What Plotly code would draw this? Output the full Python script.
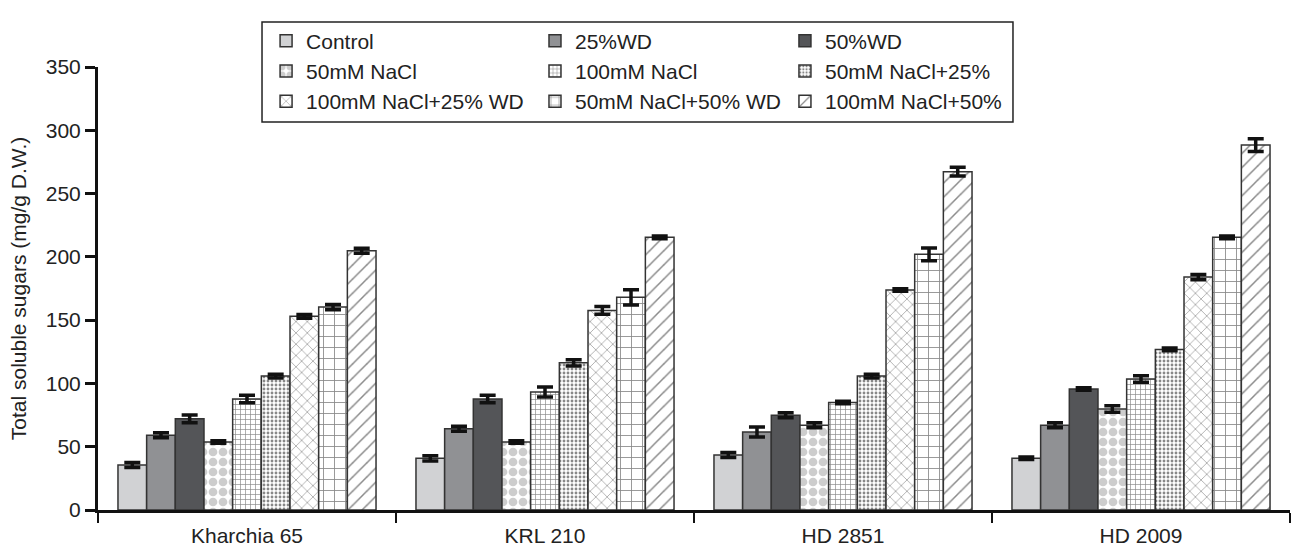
import plotly.graph_objects as go

cultivars = ["Kharchia 65", "KRL 210", "HD 2851", "HD 2009"]
treatments = ["Control", "25%WD", "50%WD", "50mM NaCl", "100mM NaCl",
              "50mM NaCl+25%", "100mM NaCl+25% WD", "50mM NaCl+50% WD", "100mM NaCl+50%"]

control = [35.5, 40.8, 43.4, 40.8]
wd25 = [59.0, 64.2, 61.6, 66.9]
wd50 = [72.0, 87.7, 74.8, 95.6]
nacl50 = [53.7, 53.7, 66.9, 79.8]
nacl100 = [87.7, 93.2, 85.0, 103.5]
nacl50_wd25 = [105.8, 116.3, 105.8, 126.9]
nacl100_wd25 = [153.0, 157.7, 173.8, 184.0]
nacl50_wd50 = [160.3, 168.0, 202.0, 215.4]
nacl100_wd50 = [204.8, 215.4, 267.3, 288.3]

err_control = [2, 2, 2, 1]
err_wd25 = [2, 2, 4, 2]
err_wd50 = [3, 3, 2, 1]
err_nacl50 = [1, 1, 2, 2.5]
err_nacl100 = [3, 4, 1, 2.5]
err_nacl50_wd25 = [1.5, 2.5, 1.5, 1]
err_nacl100_wd25 = [1.5, 3, 1, 2]
err_nacl50_wd50 = [2, 6, 5, 1]
err_nacl100_wd50 = [2, 1, 3.5, 5]

series = [control, wd25, wd50, nacl50, nacl100, nacl50_wd25, nacl100_wd25, nacl50_wd50, nacl100_wd50]
errors = [err_control, err_wd25, err_wd50, err_nacl50, err_nacl100, err_nacl50_wd25,
          err_nacl100_wd25, err_nacl50_wd50, err_nacl100_wd50]

styles = [
    dict(color="#d1d2d4"),
    dict(color="#909194"),
    dict(color="#545558"),
    dict(color="white", pattern=dict(shape=".", fgcolor="#9b9b9b", bgcolor="white", size=10, solidity=0.6, fillmode="overlay")),
    dict(color="white", pattern=dict(shape="+", fgcolor="#111", bgcolor="white", size=5, solidity=0.25, fillmode="overlay")),
    dict(color="white", pattern=dict(shape=".", fgcolor="#111", bgcolor="white", size=4, solidity=0.4, fillmode="overlay")),
    dict(color="white", pattern=dict(shape="x", fgcolor="#111", bgcolor="white", size=8, solidity=0.15, fillmode="overlay")),
    dict(color="white", pattern=dict(shape="+", fgcolor="#111", bgcolor="white", size=11, solidity=0.15, fillmode="overlay")),
    dict(color="white", pattern=dict(shape="/", fgcolor="#111", bgcolor="white", size=10, solidity=0.15, fillmode="overlay")),
]

legend_of = ["legend", "legend2", "legend3"] * 3

fig = go.Figure()
for i, (name, vals, errs, st) in enumerate(zip(treatments, series, errors, styles)):
    fig.add_trace(go.Bar(
        x=cultivars, y=vals, name=name,
        marker=dict(line=dict(color="#333", width=1.5), **st),
        error_y=dict(type="data", array=errs, visible=True, color="#111", thickness=3.5, width=8),
        legend=legend_of[i],
    ))

font = dict(family="Liberation Sans, Arial, sans-serif", size=21, color="#222")
leg_common = dict(font=font, bgcolor="rgba(0,0,0,0)", borderwidth=0, yanchor="top",
                  xanchor="left", orientation="v", tracegroupgap=0)

fig.update_layout(
    width=1293, height=554,
    margin=dict(l=98, r=3, t=67, b=44),
    paper_bgcolor="white", plot_bgcolor="white",
    font=font,
    barmode="group", bargap=0.134, bargroupgap=0,
    legend=dict(x=0.141, y=1.105, **leg_common),
    legend2=dict(x=0.3666, y=1.105, **leg_common),
    legend3=dict(x=0.5763, y=1.105, **leg_common),
    xaxis=dict(range=[-0.5, 3.5], showline=True, linecolor="#111", linewidth=3,
               ticks="outside", tickson="boundaries", ticklen=10, tickwidth=2, tickcolor="#111",
               showgrid=False, tickfont=font, ticklabelstandoff=5),
    yaxis=dict(range=[0, 350], dtick=50, showline=True, linecolor="#111", linewidth=3,
               ticks="outside", ticklen=10, tickwidth=3, tickcolor="#111", showgrid=False,
               zeroline=False, tickfont=font,
               title=dict(text="Total soluble sugars (mg/g D.W.)", font=font, standoff=14)),
    shapes=[dict(type="rect", xref="paper", yref="paper", x0=0.1376, x1=0.7676, y0=0.876, y1=1.1016,
                 line=dict(color="#222", width=1.5), fillcolor="rgba(0,0,0,0)")],
)

fig.write_html("out.html", config={"displayModeBar": False},
               post_script="document.body.style.margin='0';")
